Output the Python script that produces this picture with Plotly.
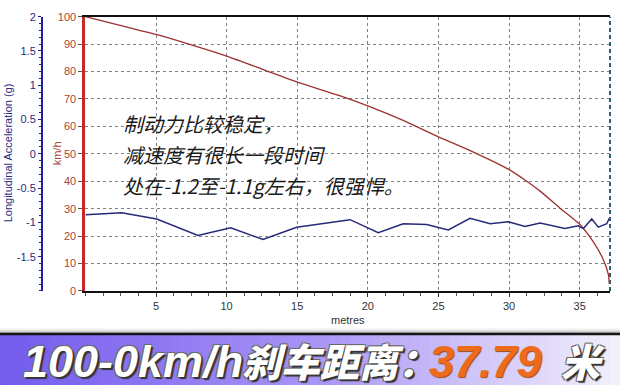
import plotly.graph_objects as go

# ---- data ----
speed_dist = [0, 2.45, 5.0, 7.5, 10.0, 12.5, 14.97, 18.0, 20.04, 22.5, 25.0, 27.36,
              29.95, 31.25, 32.2, 33.61, 34.98, 35.97, 36.68, 37.03, 37.1]
speed_kmh = [100, 96.8, 93.5, 89.7, 85.6, 80.9, 76.2, 71.2, 67.4, 62.2, 56.2, 50.9,
             44.4, 40.0, 36.4, 30.2, 24.4, 17.9, 11.4, 6.1, 2.6]

acc_dist = [0, 2.57, 5.05, 7.97, 10.29, 12.58, 14.96, 18.74, 20.74, 22.51, 24.17, 25.7,
            27.24, 28.66, 29.95, 31.13, 32.2, 33.96, 34.9, 35.26, 35.86, 36.32, 36.92, 37.1]
acc_g = [-0.89, -0.86, -0.95, -1.19, -1.08, -1.25, -1.07, -0.96, -1.15, -1.02, -1.03, -1.11,
         -0.94, -1.02, -0.99, -1.06, -1.01, -1.09, -1.05, -1.09, -0.95, -1.07, -1.02, -0.94]

x_ticks = [5, 10, 15, 20, 25, 30, 35]
kmh_ticks = [0, 10, 20, 30, 40, 50, 60, 70, 80, 90, 100]
g_ticks = [2, 1.5, 1, 0.5, 0, -0.5, -1, -1.5]
g_tick_text = ["2", "1.5", "1", "0.5", "0", "-0.5", "-1", "-1.5"]

notes = ["制动力比较稳定，", "减速度有很长一段时间", "处在-1.2至-1.1g左右，很强悍。"]
banner_parts = ["100-0km/h", "刹车距离：", "37.79", "米"]

W, H = 620, 391
def px(x):
    return x / W
def py(y):
    return 1 - y / H

fig = go.Figure()
fig.add_trace(go.Scatter(x=speed_dist, y=speed_kmh, mode="lines",
                         line=dict(color="#9c3232", width=1.3, shape="spline", smoothing=0.6),
                         yaxis="y", showlegend=False))
fig.add_trace(go.Scatter(x=acc_dist, y=acc_g, mode="lines",
                         line=dict(color="#262a78", width=1.5), yaxis="y2", showlegend=False))

tickfont = dict(family="Liberation Sans, Arial", size=11)

fig.update_layout(
    width=W, height=H, margin=dict(l=0, r=0, t=0, b=0),
    paper_bgcolor="white", plot_bgcolor="white",
    xaxis=dict(domain=[px(85.4), px(610)], range=[0, 37.15], tickvals=x_ticks,
               showline=True, linecolor="#111111", linewidth=2, mirror=True,
               ticks="outside", ticklen=4, tickcolor="#333333",
               minor=dict(dtick=1.25, tick0=0, ticks="outside", ticklen=3, tickcolor="#555555"),
               showgrid=True, gridcolor="#808080", griddash="3px,3px", gridwidth=1,
               zeroline=False, tickfont=dict(tickfont, color="#333333")),
    yaxis=dict(domain=[py(294), py(11)], range=[0, 100], tickvals=kmh_ticks,
               showline=True, linecolor="#c82828", linewidth=3,
               ticks="outside", ticklen=4, tickcolor="#555555",
               showgrid=True, gridcolor="#808080", griddash="3px,3px", gridwidth=1,
               zeroline=False, tickfont=dict(tickfont, color="#a8443a")),
    yaxis2=dict(overlaying="y", anchor="free", position=px(42), side="left",
                range=[-2, 2], tickvals=g_ticks, ticktext=g_tick_text,
                showline=True, linecolor="#1f1fa0", linewidth=2,
                ticks="outside", ticklen=3, tickcolor="#1f1fa0",
                minor=dict(dtick=0.1, ticks="outside", ticklen=2, tickcolor="#1f1fa0"),
                showgrid=False, zeroline=False, tickfont=dict(tickfont, color="#2a2a80")),
)

shapes = []
# right dashed cursor line
shapes.append(dict(type="line", xref="x domain", yref="y domain", x0=1, x1=1, y0=0, y1=1,
                   line=dict(color="#2f5f70", width=2, dash="4px,3px")))

# banner gradient (purple -> near white)
c0 = (116, 92, 238)
c1 = (168, 148, 246)
c2 = (242, 240, 252)
n = 62
for i in range(n):
    t = i / (n - 1)
    if t < 0.5:
        u = t / 0.5
        c = tuple(int(c0[k] + (c1[k] - c0[k]) * u) for k in range(3))
    else:
        u = (t - 0.5) / 0.5
        c = tuple(int(c1[k] + (c2[k] - c1[k]) * u) for k in range(3))
    shapes.append(dict(type="rect", xref="paper", yref="paper",
                       x0=i / n, x1=(i + 1) / n + 0.002, y0=0, y1=py(339),
                       fillcolor="rgb(%d,%d,%d)" % c, line=dict(width=0), layer="below"))
# soft shadow above banner line
for j, g in enumerate([250, 240, 225, 205, 180, 150]):
    shapes.append(dict(type="rect", xref="paper", yref="paper", x0=0, x1=1,
                       y0=py(332 + j + 1), y1=py(332 + j),
                       fillcolor="rgb(%d,%d,%d)" % (g, g, g), line=dict(width=0), layer="below"))
shapes.append(dict(type="line", xref="paper", yref="paper", x0=0, x1=1, y0=py(338.5), y1=py(338.5),
                   line=dict(color="#151515", width=2.5)))
fig.update_layout(shapes=shapes)

ann = []
def add_text(text, x, y, font, xanchor="center", angle=0):
    ann.append(dict(text=text, xref="paper", yref="paper", x=px(x), y=py(y),
                    xanchor=xanchor, yanchor="middle", textangle=angle, showarrow=False,
                    font=font))

add_text("Longitudinal Acceleration (g)", 8, 152,
         dict(family="Liberation Sans, Arial", size=11, color="#2a2a80"), angle=-90)
add_text("km/h", 57, 152, dict(family="Liberation Sans, Arial", size=11, color="#a8443a"), angle=-90)
add_text("metres", 348, 324, dict(family="Liberation Sans, Arial", size=11, color="#333333"))
for line_text, yy in zip(notes, [121.5, 153.5, 185.5]):
    add_text(line_text, 121, yy,
             dict(family="Noto Sans CJK SC", size=20, color="#1a1a1a", style="italic"),
             xanchor="left")

shadow = "2px 2px 1px #333333, -1px -1px 0 #6a6a6a, 1px -1px 0 #6a6a6a, -1px 1px 0 #6a6a6a"
oshadow = "1px 1px 1px #9a4a20"
bfont = dict(family="Liberation Sans, Arial", color="white",
             weight="bold", style="italic", shadow=shadow)
cfont = dict(bfont, family="Noto Sans CJK SC", size=39, weight=900)
add_text(banner_parts[0], 21, 367, dict(bfont, size=45), xanchor="left")
add_text(banner_parts[1], 240, 365, cfont, xanchor="left")
add_text(banner_parts[2], 427, 367, dict(bfont, size=45, color="#f06a1c", shadow=oshadow), xanchor="left")
add_text(banner_parts[3], 559, 365, cfont, xanchor="left")
fig.update_layout(annotations=ann)

fig.write_html("out.html")
